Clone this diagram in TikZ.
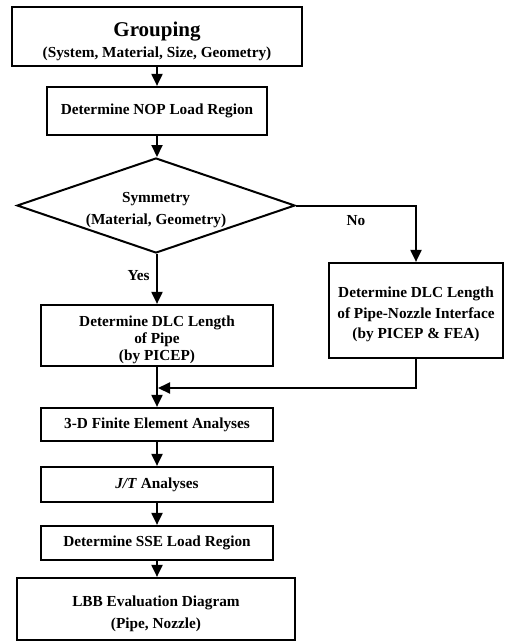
\documentclass[tikz,border=0pt]{standalone}
\usepackage{fontspec}
\setmainfont{Liberation Serif}
\usepackage{tikz}
\usetikzlibrary{arrows.meta, calc, positioning, shapes}
\newcommand{\topgap}[1]{\rule{0pt}{#1}}

\begin{document}
\begin{tikzpicture}[x=1pt, y=-1pt,
    box/.style={draw, line width=2.2pt, inner sep=0pt, align=center,
        font=\fontsize{15.3}{17}\selectfont\bfseries},
    decision/.style={box, diamond, shape aspect=2.93, line width=2pt},
    flow/.style={line width=2pt, -{Triangle[width=11pt,length=12pt]}},
    tag/.style={font=\fontsize{15.3}{17}\selectfont\bfseries}]
    \useasboundingbox (0,0) rectangle (511,641);
    % main column
    \node[box, minimum width=290pt, minimum height=59pt] (group) at (157,36.5)
        {\topgap{24pt}{\fontsize{21}{24}\selectfont Grouping}\\[4pt](System, Material, Size, Geometry)};
    \node[box, minimum width=220pt, minimum height=48pt] (nop) at (157,111) {Determine NOP Load Region};
    \node[decision, minimum width=278pt, minimum height=95pt] (sym) at (156,205.5)
        {\topgap{19.5pt}Symmetry\\[5pt](Material, Geometry)};
    \node[box, minimum width=232pt, minimum height=61pt] (pipe) at (157,335.5)
        {\topgap{19pt}Determine DLC Length\\of Pipe\\(by PICEP)};
    \node[box, minimum width=174pt, minimum height=95pt] (nozzle) at (416,310.5)
        {\topgap{18.5pt}Determine DLC Length\\[3.5pt]of Pipe-Nozzle Interface\\[3.5pt](by PICEP \& FEA)};
    \node[box, minimum width=232pt, minimum height=33pt] (fea) at (157,424.5) {3-D Finite Element Analyses};
    \node[box, minimum width=232pt, minimum height=35pt] (jt) at (157,484.5) {\textit{J/T} Analyses};
    \node[box, minimum width=232pt, minimum height=34pt] (sse) at (157,543) {Determine SSE Load Region};
    \node[box, minimum width=278pt, minimum height=62pt] (lbb) at (156,609)
        {\topgap{20.5pt}LBB Evaluation Diagram\\[5pt](Pipe, Nozzle)};
    \coordinate (merge) at (158,388);

    % connectors
    \draw[flow] (group) -- (nop);
    \draw[flow] (nop.south) -- (nop.south |- sym.north);
    \draw[flow] (sym.south -| pipe.north) -- (pipe.north) node[tag, pos=0.44, left=3pt] {Yes};
    \draw[flow] (sym.east) -| (nozzle.north) node[tag, pos=0.5, below=6pt, xshift=-60pt] {No};
    \draw[flow] (pipe) -- (fea);
    \draw[flow] (nozzle.south) |- (merge);
    \draw[flow] (fea) -- (jt);
    \draw[flow] (jt) -- (sse);
    \draw[flow] (sse.south) -- (sse.south |- lbb.north);
\end{tikzpicture}
\end{document}
